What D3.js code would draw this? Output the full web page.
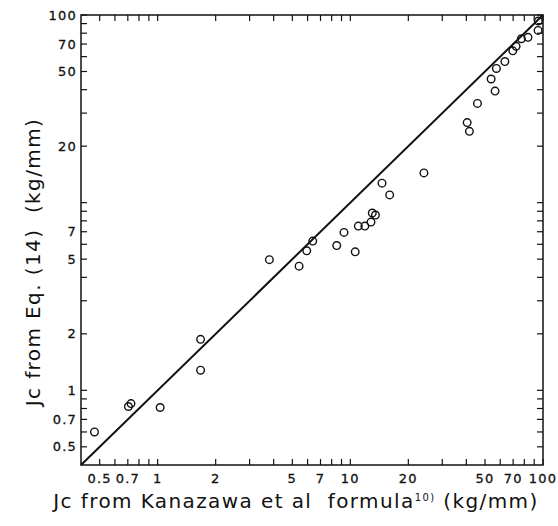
<!DOCTYPE html>
<meta charset="utf-8">
<style>
    body { margin: 0; background: #fff; }
    text { fill: #111; font-family: "DejaVu Sans", sans-serif; }
    .tick-label { font-size: 13px; letter-spacing: 1.2px; stroke: #111; stroke-width: 0.3; }
    .title { font-size: 20px; white-space: pre; }
    .frame { fill: none; stroke: #111; stroke-width: 1.5; }
    .tick { stroke: #111; stroke-width: 1.2; }
    .fit { stroke: #111; stroke-width: 2; fill: none; }
    .dot { fill: none; stroke: #111; stroke-width: 1.4; }
</style>
<body>
<script src="https://cdn.jsdelivr.net/npm/d3@7"></script>
<script>

    // Jc from Kanazawa et al formula (x) vs Jc from Eq. (14) (y), kg/mm
    var jcKanazawa = [0.47, 0.705, 0.727, 1.03, 1.67, 1.67,
                      3.8, 5.42, 5.94, 6.38, 8.5, 9.27, 10.6, 11.0, 11.9, 12.8, 13.0, 13.5, 14.6, 16.0, 24.1,
                      40.4, 41.5, 45.7, 56.4, 53.8, 57.3, 63.4, 69.7, 72.5, 77.2, 83.6, 94.6, 94.3];
    var jcEq14 = [0.6, 0.82, 0.85, 0.81, 1.87, 1.28,
                  4.97, 4.59, 5.54, 6.24, 5.91, 6.94, 5.47, 7.5, 7.5, 7.88, 8.81, 8.59, 12.7, 11.0, 14.4,
                  26.7, 24.0, 33.8, 39.3, 45.6, 51.9, 56.5, 64.4, 68.1, 74.7, 76.0, 92.9, 82.8];

    var xTickLabels = [0.5, 0.7, 1, 2, 5, 7, 10, 20, 50, 70, 100];
    var yTickLabels = [0.5, 0.7, 1, 2, 5, 7, 20, 50, 70, 100];
    var domain = [0.4, 100];
    var lineEnds = [0.4, 100];

    var minorTicks = [];
    [0.1, 1, 10].forEach(function(dec) {
        for (var k = 1; k <= 9; k++) {
            var v = +(k * dec).toPrecision(3);
            if (v >= 0.5 && v <= 100) minorTicks.push(v);
        }
    });
    minorTicks.push(100);

    var W = 558, H = 526;
    var margin = {top: 15, right: 15, bottom: 61, left: 81},
        width = W - margin.left - margin.right,
        height = H - margin.top - margin.bottom;

    var x = d3.scaleLog().domain(domain).range([0, width]);
    var y = d3.scaleLog().domain(domain).range([height, 0]);

    var svg = d3.select("body").append("svg")
        .attr("width", W)
        .attr("height", H);

    var g = svg.append("g")
        .attr("transform", "translate(" + margin.left + "," + margin.top + ")");

    var tickLen = 6;

    // ticks on all four sides, pointing inward
    g.selectAll("line.xb").data(minorTicks).enter().append("line")
        .attr("class", "tick")
        .attr("x1", function(d) { return x(d); }).attr("x2", function(d) { return x(d); })
        .attr("y1", height).attr("y2", height - tickLen);
    g.selectAll("line.xt").data(minorTicks).enter().append("line")
        .attr("class", "tick")
        .attr("x1", function(d) { return x(d); }).attr("x2", function(d) { return x(d); })
        .attr("y1", 0).attr("y2", tickLen);
    g.selectAll("line.yl").data(minorTicks).enter().append("line")
        .attr("class", "tick")
        .attr("y1", function(d) { return y(d); }).attr("y2", function(d) { return y(d); })
        .attr("x1", 0).attr("x2", tickLen);
    g.selectAll("line.yr").data(minorTicks).enter().append("line")
        .attr("class", "tick")
        .attr("y1", function(d) { return y(d); }).attr("y2", function(d) { return y(d); })
        .attr("x1", width).attr("x2", width - tickLen);

    g.append("rect")
        .attr("class", "frame")
        .attr("width", width)
        .attr("height", height);

    // tick labels
    g.selectAll("text.xl").data(xTickLabels).enter().append("text")
        .attr("class", "tick-label")
        .attr("x", function(d) { return x(d); })
        .attr("y", height + 18)
        .attr("text-anchor", "middle")
        .text(function(d) { return d; });

    g.selectAll("text.yl").data(yTickLabels).enter().append("text")
        .attr("class", "tick-label")
        .attr("x", -4)
        .attr("y", function(d) { return y(d); })
        .attr("dy", "0.35em")
        .attr("text-anchor", "end")
        .text(function(d) { return d; });

    // y = x reference line
    g.append("line")
        .attr("class", "fit")
        .attr("x1", x(lineEnds[0])).attr("y1", y(lineEnds[0]))
        .attr("x2", x(lineEnds[1])).attr("y2", y(lineEnds[1]));

    var pts = jcKanazawa.map(function(v, i) { return {x: v, y: jcEq14[i]}; });
    g.selectAll("circle.dot").data(pts).enter().append("circle")
        .attr("class", "dot")
        .attr("cx", function(d) { return x(d.x); })
        .attr("cy", function(d) { return y(d.y); })
        .attr("r", 3.8);

    // axis titles
    var xt = svg.append("text")
        .attr("class", "title")
        .attr("x", 296)
        .attr("y", 508)
        .attr("letter-spacing", "1.4px")
        .attr("text-anchor", "middle");
    xt.append("tspan").text("Jc from Kanazawa et al  formula");
    xt.append("tspan").attr("font-size", "10px").attr("dy", "-7").text("10)");
    xt.append("tspan").attr("dy", "7").text(" (kg/mm)");

    svg.append("text")
        .attr("class", "title")
        .attr("letter-spacing", "1.4px")
        .attr("transform", "translate(40,262) rotate(-90)")
        .attr("text-anchor", "middle")
        .text("Jc from Eq. (14)  (kg/mm)");

</script>
